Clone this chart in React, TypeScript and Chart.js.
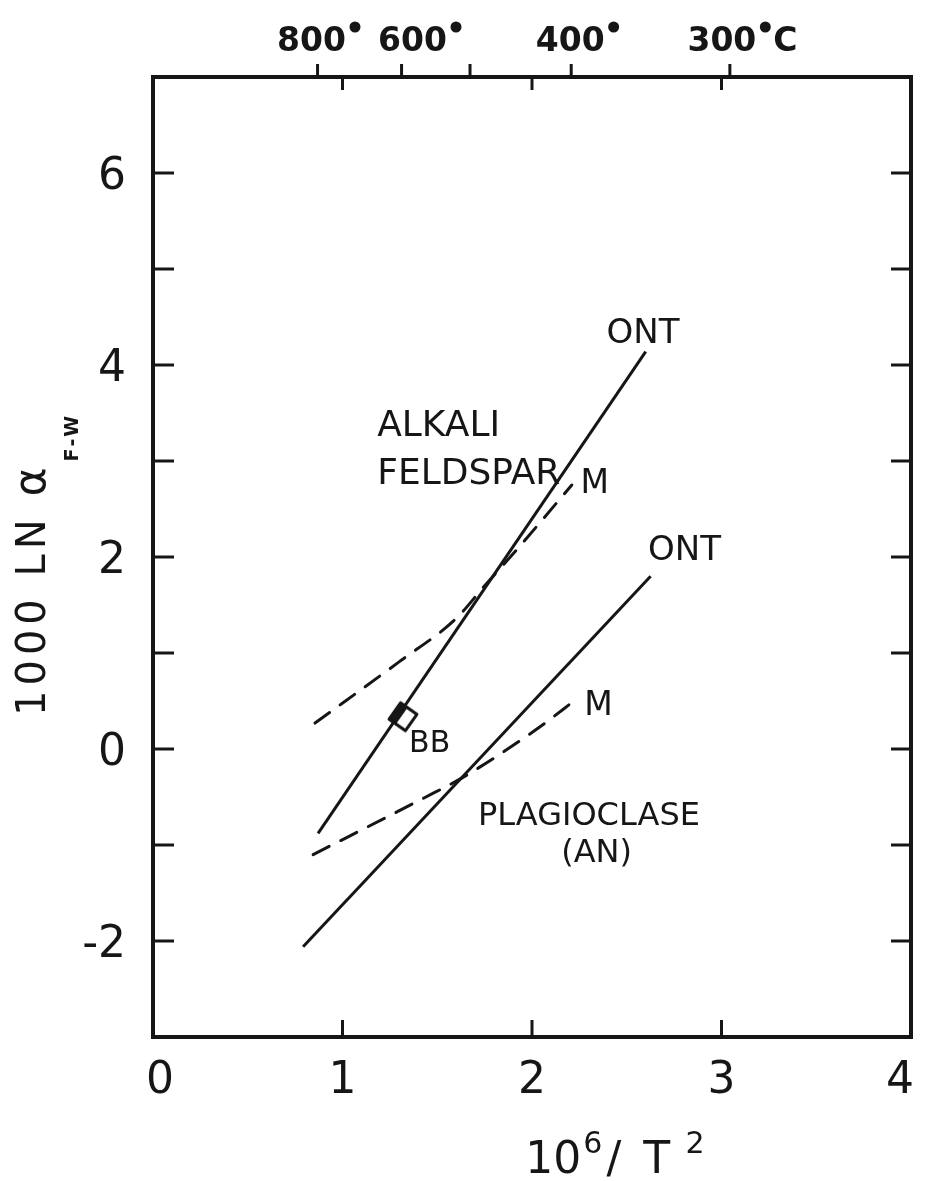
import React, { useEffect, useRef } from "react";
import { Chart, registerables } from "chart.js";

Chart.register(...registerables);

const W = 926;
const H = 1181;
const INK = "#161616";
const FONT = '"DejaVu Sans", "Liberation Sans", sans-serif';

// ---- axes ----
const xMin = 0;
const xMax = 4;
const yMin = -3;
const yMax = 7;
const xTickValues = [0, 1, 2, 3, 4];
const xTickLabels = ["0", "1", "2", "3", "4"];
const yTickValues = [-2, -1, 0, 1, 2, 3, 4, 5, 6];
const yTickLabels = ["-2", "", "0", "", "2", "", "4", "", "6"];
const topTempC = [800, 600, 500, 400, 300];
const topTempLabels = ["800", "600", "", "400", "300"];

// ---- series (x = 10^6/T^2, y = 1000 ln alpha) ----
const alkaliOntX = [0.871, 2.6];
const alkaliOntY = [-0.878, 4.139];
const alkaliMX = [0.855, 1.3, 1.6, 1.75, 1.93, 2.21];
const alkaliMY = [0.27, 0.91, 1.36, 1.7, 2.1, 2.75];
const plagOntX = [0.792, 2.626];
const plagOntY = [-2.06, 1.8];
const plagMX = [0.845, 1.43, 1.64, 2.02, 2.235];
const plagMY = [-1.1, -0.51, -0.29, 0.2, 0.52];
const bbX = [1.319];
const bbY = [0.336];

// ---- text annotations (anchored in data units) ----
const LABELS = [
  { text: "ALKALI", x: 1.183, y: 3.396, align: "left", size: 36 },
  { text: "FELDSPAR", x: 1.183, y: 2.896, align: "left", size: 36 },
  { text: "M", x: 2.331, y: 2.79, align: "center", size: 33 },
  { text: "ONT", x: 2.586, y: 4.354, align: "center", size: 34 },
  { text: "ONT", x: 2.805, y: 2.094, align: "center", size: 34 },
  { text: "M", x: 2.351, y: 0.479, align: "center", size: 33 },
  { text: "BB", x: 1.46, y: 0.083, align: "center", size: 30 },
  { text: "PLAGIOCLASE", x: 1.715, y: -0.667, align: "left", size: 32 },
  { text: "(AN)", x: 2.341, y: -1.052, align: "center", size: 32 },
];

const zip = (xs: number[], ys: number[]) => xs.map((x, i) => ({ x, y: ys[i] }));
const tempToX = (t: number) => 1e6 / Math.pow(t + 273.15, 2);

function makeDiamond(): HTMLCanvasElement {
  const c = document.createElement("canvas");
  c.width = 36;
  c.height = 36;
  const g = c.getContext("2d")!;
  g.translate(18, 18);
  g.rotate((35 * Math.PI) / 180);
  const s = 10;
  g.fillStyle = "#ffffff";
  g.fillRect(-s, -s, 2 * s, 2 * s);
  g.fillStyle = INK;
  g.fillRect(-s, -s, s * 0.85, 2 * s);
  g.strokeStyle = INK;
  g.lineWidth = 3;
  g.lineJoin = "round";
  g.strokeRect(-s, -s, 2 * s, 2 * s);
  return c;
}

const framePlugin = {
  id: "frameAndText",
  afterDraw(chart: any) {
    const { ctx, chartArea: a, scales } = chart;
    const xs = scales.x;
    const ys = scales.y;
    ctx.save();
    ctx.strokeStyle = INK;
    ctx.fillStyle = INK;
    ctx.lineCap = "butt";
    const seg = (x1: number, y1: number, x2: number, y2: number) => {
      ctx.beginPath();
      ctx.moveTo(x1, y1);
      ctx.lineTo(x2, y2);
      ctx.stroke();
    };

    // ticks
    ctx.lineWidth = 3;
    yTickValues.forEach((v) => {
      const py = ys.getPixelForValue(v);
      seg(a.left, py, a.left + 21, py);
      seg(a.right - 20, py, a.right, py);
    });
    xTickValues.forEach((v) => {
      if (v <= xMin || v >= xMax) return;
      const px = xs.getPixelForValue(v);
      seg(px, a.bottom, px, a.bottom - 17);
      seg(px, a.top, px, a.top + 13);
    });
    topTempC.forEach((t) => {
      const px = xs.getPixelForValue(tempToX(t));
      seg(px, a.top, px, a.top - 13);
    });

    // frame
    ctx.lineWidth = 4;
    ctx.lineJoin = "miter";
    ctx.strokeRect(a.left, a.top, a.right - a.left, a.bottom - a.top);

    // y tick labels
    ctx.font = `44px ${FONT}`;
    ctx.textAlign = "right";
    ctx.textBaseline = "alphabetic";
    yTickValues.forEach((v, i) => {
      const s = yTickLabels[i];
      if (!s) return;
      ctx.fillText(s, a.left - 27, ys.getPixelForValue(v) + 16);
    });

    // x tick labels
    ctx.textAlign = "center";
    xTickValues.forEach((v, i) => {
      let px = xs.getPixelForValue(v);
      if (i === 0) px += 7;
      if (i === xTickValues.length - 1) px -= 11;
      ctx.fillText(xTickLabels[i], px, a.bottom + 56);
    });

    // top temperature labels
    ctx.font = `bold 33px ${FONT}`;
    const nudges = [-6, 11, 0, -1, -8];
    topTempC.forEach((t, i) => {
      const s = topTempLabels[i];
      if (!s) return;
      const px = xs.getPixelForValue(tempToX(t)) + nudges[i];
      const w = ctx.measureText(s).width;
      ctx.textAlign = "center";
      ctx.fillText(s, px, 51);
      ctx.beginPath();
      ctx.arc(px + w / 2 + 9, 27, 5.5, 0, Math.PI * 2);
      ctx.fill();
      if (i === topTempC.length - 1) {
        ctx.textAlign = "left";
        ctx.fillText("C", px + w / 2 + 17, 51);
      }
    });

    // y axis title (rotated)
    ctx.save();
    ctx.translate(45, 716);
    ctx.rotate(-Math.PI / 2);
    ctx.textAlign = "left";
    let pos = 0;
    const drawSpaced = (str: string, font: string, spacing: number, dy: number) => {
      ctx.font = font;
      for (const ch of str) {
        ctx.fillText(ch, pos, dy);
        pos += ctx.measureText(ch).width + spacing;
      }
    };
    drawSpaced("1000 LN ", `40px ${FONT}`, 5, 0);
    drawSpaced("\u03B1", `44px ${FONT}`, 4, 0);
    pos += 2;
    drawSpaced("F-W", `bold 19px ${FONT}`, 2, 33);
    ctx.restore();

    // x axis title: 10^6 / T^2
    const main = `44px ${FONT}`;
    const sup = `30px ${FONT}`;
    const parts: [string, string, number, number][] = [
      ["10", main, 0, 2],
      ["6", sup, -20, 4],
      ["/", main, 0, 4],
      [" ", main, 0, 4],
      ["T", main, 0, 4],
      [" ", sup, 0, 2],
      ["2", sup, -20, 0],
    ];
    let total = 0;
    parts.forEach(([s, f, , gap]) => {
      ctx.font = f;
      total += ctx.measureText(s).width + gap;
    });
    let cx = 615 - total / 2;
    ctx.textAlign = "left";
    parts.forEach(([s, f, dy, gap]) => {
      ctx.font = f;
      ctx.fillText(s, cx, 1173 + dy);
      cx += ctx.measureText(s).width + gap;
    });

    // in-plot annotations
    LABELS.forEach((l) => {
      ctx.font = `${l.size}px ${FONT}`;
      ctx.textAlign = l.align as CanvasTextAlign;
      const px = xs.getPixelForValue(l.x);
      const py = ys.getPixelForValue(l.y) + (l.size * 0.729) / 2;
      ctx.fillText(l.text, px, py);
    });

    ctx.restore();
  },
};

export default function App() {
  const ref = useRef<HTMLCanvasElement | null>(null);

  useEffect(() => {
    document.body.style.margin = "0";
    const canvas = ref.current;
    if (!canvas) return;
    const solid = { showLine: true, borderColor: INK, borderWidth: 3, pointRadius: 0, fill: false };
    const dashed = { ...solid, borderDash: [18, 13], borderCapStyle: "round", cubicInterpolationMode: "monotone" };
    const chart = new Chart(canvas, {
      type: "scatter",
      data: {
        datasets: [
          { label: "Alkali feldspar ONT", data: zip(alkaliOntX, alkaliOntY), ...solid },
          { label: "Alkali feldspar M", data: zip(alkaliMX, alkaliMY), ...dashed },
          { label: "Plagioclase ONT", data: zip(plagOntX, plagOntY), ...solid },
          { label: "Plagioclase M", data: zip(plagMX, plagMY), ...dashed },
          {
            label: "BB",
            data: zip(bbX, bbY),
            showLine: false,
            pointStyle: makeDiamond(),
            pointRadius: 14,
          },
        ] as any,
      },
      options: {
        animation: false,
        responsive: false,
        devicePixelRatio: 1,
        events: [],
        layout: { padding: { left: 153, right: W - 920, top: 77, bottom: H - 1037 } },
        scales: {
          x: { type: "linear", min: xMin, max: xMax, display: false },
          y: { type: "linear", min: yMin, max: yMax, display: false },
        },
        plugins: { legend: { display: false }, tooltip: { enabled: false } },
      },
      plugins: [framePlugin],
    });
    return () => chart.destroy();
  }, []);

  return (
    <div style={{ width: W, height: H, background: "#fff" }}>
      <canvas ref={ref} width={W} height={H} style={{ display: "block" }} />
    </div>
  );
}
